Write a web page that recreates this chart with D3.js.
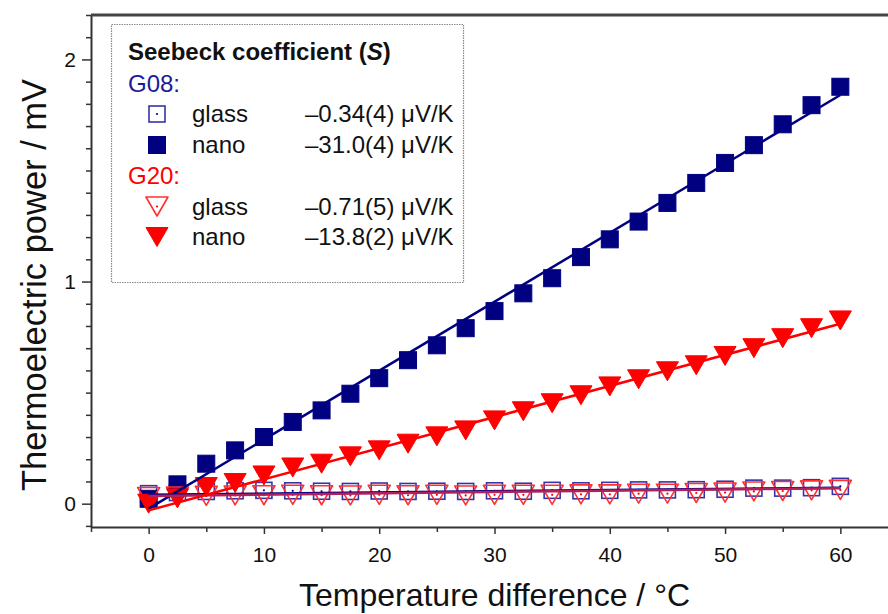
<!DOCTYPE html>
<html lang="en">
<head>
    <meta charset="UTF-8">
    <script src="https://d3js.org/d3.v7.min.js"></script>
    <title>Thermoelectric power</title>
<style>
    body { margin: 0; background: #fff; }
    text { font-family: Arial, "Liberation Sans", sans-serif; }
</style>
</head>
<body>
<svg id="graph" width="888" height="614"></svg>
<script>

// temperature difference (°C)
const temps = [0, 2.5, 5, 7.5, 10, 12.5, 15, 17.5, 20, 22.5, 25, 27.5, 30,
               32.5, 35, 37.5, 40, 42.5, 45, 47.5, 50, 52.5, 55, 57.5, 60]

// thermoelectric power (mV)
const g08Nano = [0.022, 0.087, 0.18, 0.24, 0.30, 0.368, 0.42, 0.495, 0.565, 0.646, 0.713, 0.79, 0.867,
                 0.947, 1.015, 1.11, 1.19, 1.27, 1.354, 1.444, 1.534, 1.614, 1.708, 1.794, 1.877]
const g08Glass = [0.045, 0.05, 0.055, 0.058, 0.06, 0.058, 0.056, 0.055, 0.057, 0.055, 0.056, 0.055, 0.058,
                  0.056, 0.06, 0.058, 0.06, 0.062, 0.062, 0.063, 0.065, 0.07, 0.07, 0.072, 0.078]
const g20Nano = [0.0, 0.024, 0.075, 0.093, 0.127, 0.163, 0.18, 0.213, 0.24, 0.27, 0.303, 0.33, 0.375,
                 0.416, 0.452, 0.488, 0.528, 0.56, 0.596, 0.623, 0.665, 0.70, 0.745, 0.79, 0.825]
const g20Glass = [0.03, 0.032, 0.035, 0.037, 0.038, 0.04, 0.038, 0.037, 0.04, 0.038, 0.04, 0.037, 0.04,
                  0.04, 0.04, 0.042, 0.042, 0.045, 0.045, 0.048, 0.05, 0.055, 0.057, 0.06, 0.062]

// linear fits, value at start and end of fitX
const fitX = [0, 60]
const g08NanoFit = [-0.022, 1.84]
const g08GlassFit = [0.04, 0.072]
const g20NanoFit = [-0.03, 0.81]
const g20GlassFit = [0.035, 0.07]

const xTicks = [0, 10, 20, 30, 40, 50, 60]
const yTicks = [0, 1, 2]

const legendRows = [
  {label: "glass", value: "\u20130.34(4) \u03bcV/K", color: "#000080", sym: "square", open: true},
  {label: "nano",  value: "\u201331.0(4) \u03bcV/K", color: "#000080", sym: "square", open: false},
  {label: "glass", value: "\u20130.71(5) \u03bcV/K", color: "#ff0000", sym: "tri", open: true},
  {label: "nano",  value: "\u201313.8(2) \u03bcV/K", color: "#ff0000", sym: "tri", open: false}
]

const navy = "#000080", red = "#ff0000"

let svg = d3.select("#graph")
const margin = {top: 15, left: 91, bottom: 527, right: 898}

let x = d3.scaleLinear().domain([-5, 65]).range([margin.left, margin.right])
let y = d3.scaleLinear().domain([-0.105, 2.2]).range([margin.bottom, margin.top])

// axes
svg.append("g")
   .attr("transform", `translate(0,${margin.bottom})`)
   .call(d3.axisBottom(x).tickValues(xTicks).tickSize(7).tickSizeOuter(0).tickPadding(9))
   .call(g => g.selectAll(".tick text").attr("font-size", 21).attr("fill", "#111").attr("dy", "0.9em"))
   .call(g => g.select(".domain").attr("stroke", "#333").attr("stroke-width", 2))
   .call(g => g.selectAll(".tick line").attr("stroke", "#333").attr("stroke-width", 1.5))

svg.append("g")
   .attr("transform", `translate(0,${margin.bottom})`)
   .call(d3.axisBottom(x).tickValues(d3.range(-5, 66, 10)).tickSize(5).tickFormat(""))
   .call(g => g.select(".domain").remove())
   .call(g => g.selectAll(".tick line").attr("stroke", "#333").attr("stroke-width", 1.5))

svg.append("g")
   .attr("transform", `translate(${margin.left},0)`)
   .call(d3.axisLeft(y).tickValues(yTicks).tickFormat(d3.format("d")).tickSize(9).tickSizeOuter(0).tickPadding(6))
   .call(g => g.selectAll(".tick text").attr("font-size", 21).attr("fill", "#111"))
   .call(g => g.select(".domain").attr("stroke", "#333").attr("stroke-width", 2))
   .call(g => g.selectAll(".tick line").attr("stroke", "#333").attr("stroke-width", 1.5))

svg.append("g")
   .attr("transform", `translate(${margin.left},0)`)
   .call(d3.axisLeft(y).tickValues(d3.range(-1, 23).map(d => d / 10).filter(d => d % 1 != 0)).tickSize(5).tickFormat(""))
   .call(g => g.select(".domain").remove())
   .call(g => g.selectAll(".tick line").attr("stroke", "#333").attr("stroke-width", 1.5))

// top frame
svg.append("line")
   .attr("x1", margin.left).attr("x2", margin.right)
   .attr("y1", margin.top).attr("y2", margin.top)
   .attr("stroke", "#444").attr("stroke-width", 3)

// axis titles
svg.append("text")
   .attr("x", (margin.left + margin.right) / 2)
   .attr("y", 606)
   .attr("text-anchor", "middle")
   .attr("font-size", 32)
   .attr("fill", "#111")
   .text("Temperature difference / \u00b0C")

svg.append("text")
   .attr("transform", "translate(46,285) rotate(-90)")
   .attr("text-anchor", "middle")
   .attr("font-size", 34.5)
   .attr("fill", "#111")
   .text("Thermoelectric power / mV")

// symbols
function drawSymbol(g, sym, open, color, cx, cy) {
  if (sym == "square") {
    let s = open ? 16 : 17
    g.append("rect")
     .attr("x", cx - s / 2).attr("y", cy - s / 2)
     .attr("width", s).attr("height", s)
     .attr("fill", open ? "none" : color)
     .attr("stroke", open ? "#3535a8" : color)
     .attr("stroke-width", open ? 1.6 : 1)
  } else {
    let w = 22, h = 19
    g.append("path")
     .attr("d", `M${cx - w / 2},${cy - h / 2}L${cx + w / 2},${cy - h / 2}L${cx},${cy + h / 2}Z`)
     .attr("fill", open ? "none" : color)
     .attr("stroke", open ? "#ff3030" : color)
     .attr("stroke-width", open ? 1.6 : 1)
     .attr("stroke-linejoin", "round")
  }
  if (open) {
    g.append("circle").attr("cx", cx).attr("cy", cy).attr("r", 1.1).attr("fill", color)
  }
}

function drawSeries(vals, sym, open, color) {
  let g = svg.append("g")
  vals.forEach((v, i) => drawSymbol(g, sym, open, color, x(temps[i]), y(v)))
}

function drawFit(vals, color) {
  svg.append("path")
     .datum(fitX.map((t, i) => [t, vals[i]]))
     .attr("d", d3.line().x(d => x(d[0])).y(d => y(d[1])))
     .attr("stroke", color)
     .attr("stroke-width", 2.5)
     .attr("fill", "none")
}

drawSeries(g08Glass, "square", true, navy)
drawSeries(g08Nano, "square", false, navy)
drawSeries(g20Glass, "tri", true, red)
drawSeries(g20Nano, "tri", false, red)
drawFit(g08GlassFit, navy)
drawFit(g08NanoFit, navy)
drawFit(g20GlassFit, "#b0205a")
drawFit(g20NanoFit, red)

// legend
let leg = svg.append("g")
leg.append("rect")
   .attr("x", 111.5).attr("y", 24.5)
   .attr("width", 352).attr("height", 258)
   .attr("fill", "white")
   .attr("stroke", "#888")
   .attr("stroke-width", 1.2)
   .attr("stroke-dasharray", "1.5,1")

let title = leg.append("text")
   .attr("x", 128).attr("y", 60)
   .attr("font-size", 24).attr("font-weight", "bold").attr("fill", "#111")
title.append("tspan").text("Seebeck coefficient (")
title.append("tspan").attr("font-style", "italic").text("S")
title.append("tspan").text(")")

leg.append("text").attr("x", 128).attr("y", 91.5).attr("font-size", 24).attr("fill", "#1a1a9a").text("G08:")
leg.append("text").attr("x", 128).attr("y", 184).attr("font-size", 24).attr("fill", red).text("G20:")

const rowY = [122, 153, 214.5, 245]
legendRows.forEach((r, i) => {
  drawSymbol(leg, r.sym, r.open, r.color, 157, rowY[i] - 8)
  leg.append("text").attr("x", 192).attr("y", rowY[i]).attr("font-size", 24).attr("fill", "#111").text(r.label)
  leg.append("text").attr("x", 305).attr("y", rowY[i]).attr("font-size", 24).attr("fill", "#111").text(r.value)
})

</script>
</body>
</html>
